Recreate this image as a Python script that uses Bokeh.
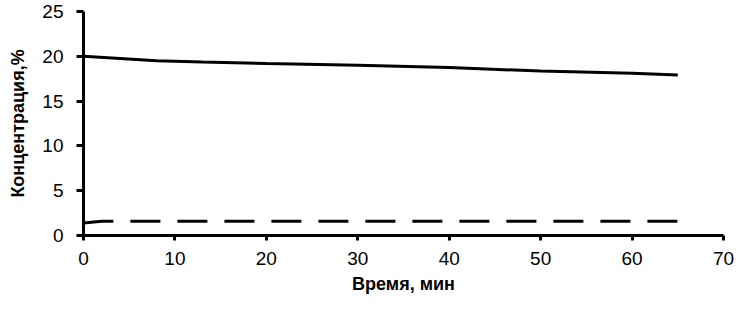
from bokeh.plotting import figure
from bokeh.models import Range1d, FixedTicker
from bokeh.embed import file_html
from bokeh.resources import INLINE

# Data
time_o2 = [0, 8, 13, 20, 30, 40, 50, 60, 65]
conc_o2 = [20.0, 19.5, 19.35, 19.2, 19.0, 18.75, 18.35, 18.1, 17.9]

time_co2 = [0, 2, 10, 20, 30, 40, 50, 60, 65]
conc_co2 = [1.4, 1.6, 1.6, 1.6, 1.6, 1.6, 1.6, 1.6, 1.6]

x_ticks = [0, 10, 20, 30, 40, 50, 60, 70]
y_ticks = [0, 5, 10, 15, 20, 25]
x_title = "Время, мин"
y_title = "Концентрация,%"

FONT = "Liberation Sans"

p = figure(width=735, height=300, x_range=Range1d(0, 70), y_range=Range1d(0, 25),
           output_backend="svg", toolbar_location=None,
           min_border_left=83, min_border_right=12, min_border_top=11, min_border_bottom=65)

p.line(time_o2, conc_o2, line_color="black", line_width=3)
p.line(time_co2, conc_co2, line_color="black", line_width=3, line_dash="30 17")

p.xgrid.visible = False
p.ygrid.visible = False
p.outline_line_color = None
p.background_fill_color = "white"
p.border_fill_color = "white"

for ax in (p.xaxis[0], p.yaxis[0]):
    ax.axis_line_width = 3
    ax.axis_line_color = "black"
    ax.major_tick_line_width = 3
    ax.major_tick_line_color = "black"
    ax.minor_tick_line_color = None
    ax.major_tick_in = 0
    ax.major_label_text_font = FONT
    ax.major_label_text_font_size = "19px"
    ax.major_label_text_color = "black"
    ax.axis_label_text_font = FONT
    ax.axis_label_text_font_size = "18px"
    ax.axis_label_text_font_style = "bold"
    ax.axis_label_text_color = "black"

p.xaxis[0].ticker = FixedTicker(ticks=x_ticks)
p.yaxis[0].ticker = FixedTicker(ticks=y_ticks)
p.xaxis[0].major_tick_out = 5
p.yaxis[0].major_tick_out = 7
p.xaxis[0].major_label_standoff = 11
p.yaxis[0].major_label_standoff = 13
p.xaxis[0].axis_label = x_title
p.yaxis[0].axis_label = y_title
p.xaxis[0].axis_label_standoff = 6
p.yaxis[0].axis_label_standoff = 11

open("out.html", "w").write(file_html(p, INLINE))
